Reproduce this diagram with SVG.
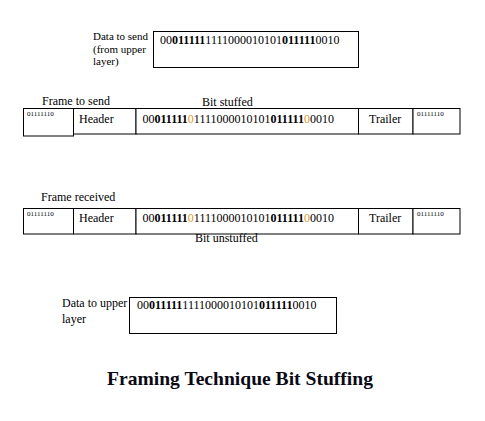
<svg xmlns="http://www.w3.org/2000/svg" width="485" height="421" viewBox="0 0 485 421">
<style>
text{font-family:"Liberation Serif","Times New Roman",serif;fill:#000}
.lbl{font-size:11px}
.lbl12{font-size:12px}
.dat{font-size:12px}
.sm{font-size:7px}
.b{font-weight:bold}
.o{fill:#E6961E}
rect{fill:#fff;stroke:#000;stroke-width:1}
.title{font-size:19.5px;font-weight:bold;fill:#0a0a14}
</style>
<rect x="0" y="0" width="485" height="421" style="stroke:none;fill:#fff"/>
<g id="data-send">
<text class="lbl" x="93" y="40">Data to send</text>
<text class="lbl" x="93" y="52.5">(from upper</text>
<text class="lbl" x="93" y="65">layer)</text>
<rect x="153.5" y="31.5" width="205" height="36"/>
<text class="dat" x="160" y="44">00<tspan class="b">011111</tspan>1111000010101<tspan class="b">011111</tspan>0010</text>
</g>
<g id="frame-send">
<text class="lbl12" x="42" y="105">Frame to send</text>
<text class="lbl12" x="202" y="106">Bit stuffed</text>
<rect x="23.5" y="108.5" width="50" height="27.5"/>
<rect x="73.5" y="108.5" width="62.5" height="25.5"/>
<rect x="136" y="108.5" width="222.5" height="25.5"/>
<rect x="358.5" y="108.5" width="54.5" height="25.5"/>
<rect x="413" y="108.5" width="47" height="25.5"/>
<text class="sm" x="27" y="116">01111110</text>
<text class="lbl12" x="79" y="123">Header</text>
<text class="dat" x="142.5" y="123">00<tspan class="b">011111</tspan><tspan class="o">0</tspan>1111000010101<tspan class="b">011111</tspan><tspan class="o">0</tspan>0010</text>
<text class="lbl12" x="369" y="123">Trailer</text>
<text class="sm" x="417" y="116">01111110</text>
</g>
<g id="frame-received">
<text class="lbl12" x="41" y="201">Frame received</text>
<rect x="23.5" y="208.5" width="50" height="25.5"/>
<rect x="73.5" y="208.5" width="62.5" height="25.5"/>
<rect x="136" y="208.5" width="222.5" height="25.5"/>
<rect x="358.5" y="208.5" width="54.5" height="25.5"/>
<rect x="413" y="208.5" width="47" height="25.5"/>
<text class="sm" x="27" y="216">01111110</text>
<text class="lbl12" x="79" y="222">Header</text>
<text class="dat" x="142.5" y="222">00<tspan class="b">011111</tspan><tspan class="o">0</tspan>1111000010101<tspan class="b">011111</tspan><tspan class="o">0</tspan>0010</text>
<text class="lbl12" x="369" y="222">Trailer</text>
<text class="sm" x="417" y="216">01111110</text>
<text class="lbl12" x="195" y="242">Bit unstuffed</text>
</g>
<g id="data-upper">
<text class="lbl12" x="62" y="307">Data to upper</text>
<text class="lbl12" x="62" y="323">layer</text>
<rect x="129.5" y="297.5" width="207" height="36"/>
<text class="dat" x="137" y="309">00<tspan class="b">011111</tspan>1111000010101<tspan class="b">011111</tspan>0010</text>
</g>
<g id="title">
<text class="title" x="107" y="385" textLength="266" lengthAdjust="spacingAndGlyphs">Framing Technique Bit Stuffing</text>
</g>
</svg>
